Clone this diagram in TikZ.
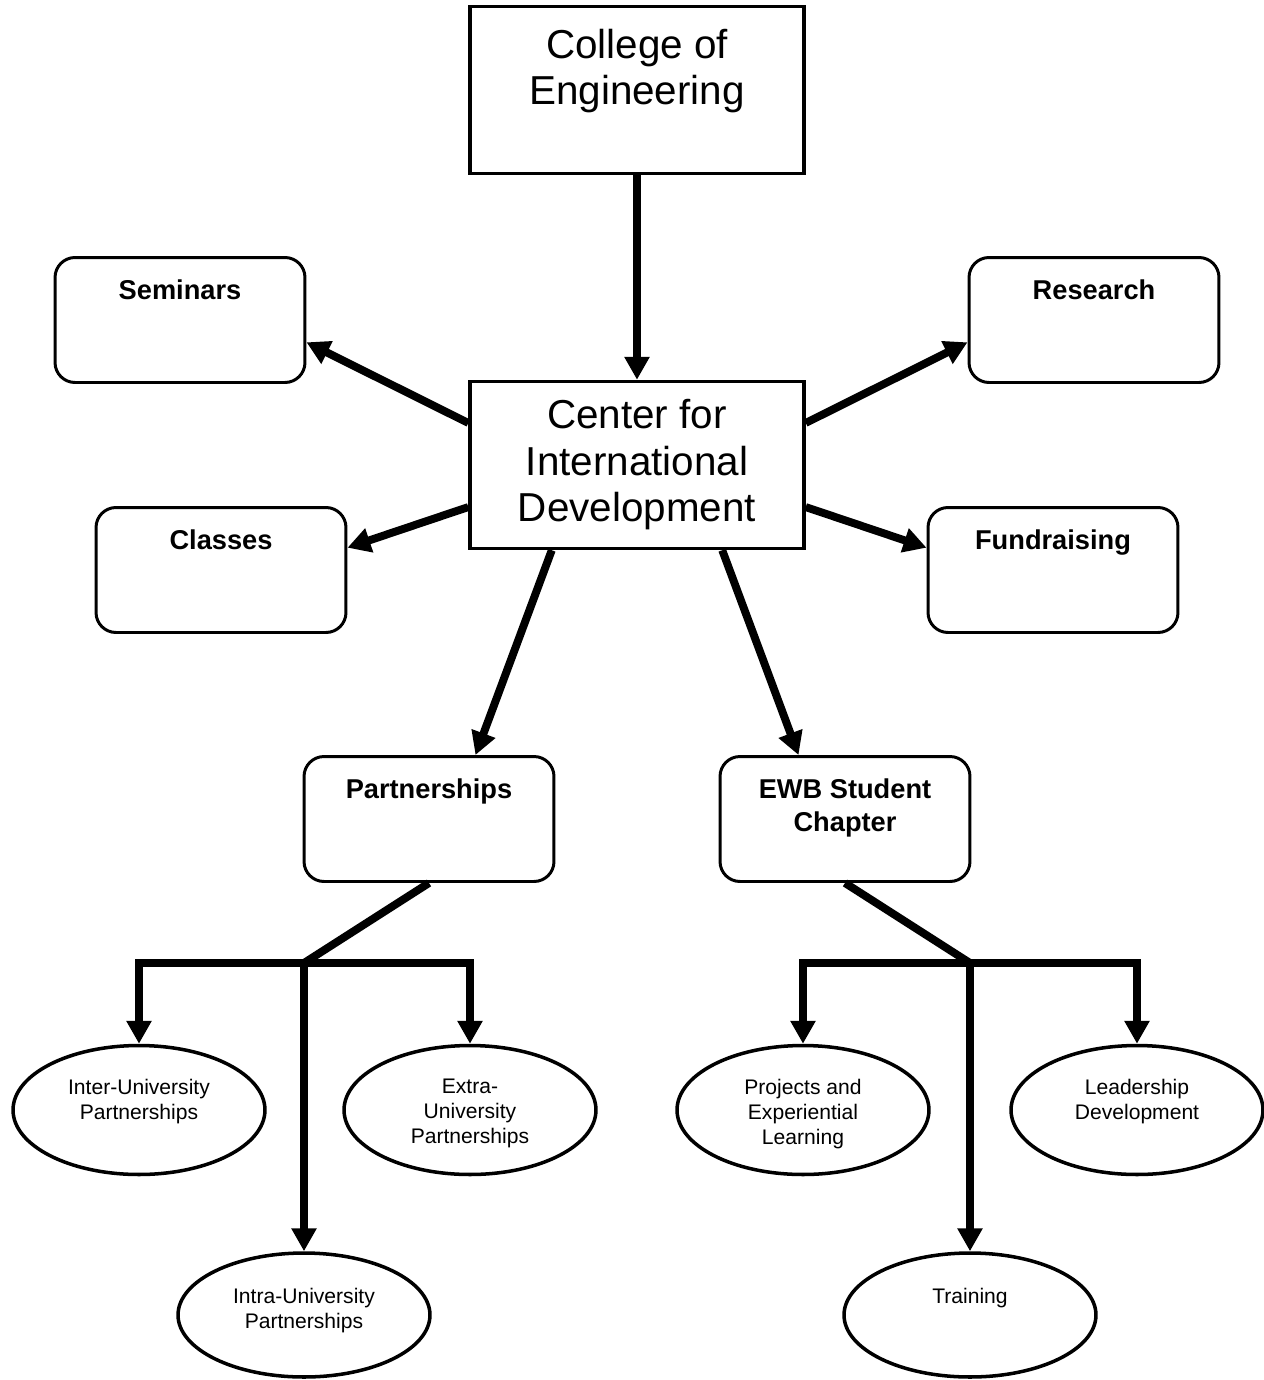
\documentclass[tikz,border=0pt]{standalone}
\usepackage{fontspec}
\setmainfont{Liberation Sans}
\usetikzlibrary{arrows.meta,shapes.geometric}

\begin{document}
\begin{tikzpicture}[x=0.02cm, y=-0.02cm,
    sqbox/.style={draw, line width=2pt, minimum width=6.68cm, minimum height=3.34cm, inner sep=0pt},
    rbox/.style={draw, line width=1.7pt, rounded corners=0.4cm, minimum width=5cm, minimum height=2.5cm, inner sep=0pt},
    oval/.style={draw, ellipse, line width=2pt, minimum width=5.04cm, minimum height=2.58cm, inner sep=0pt},
    bigtext/.style={font=\fontsize{23}{26.5}\selectfont, align=center},
    boxtext/.style={font=\fontsize{15.5}{19}\selectfont\bfseries, align=center, inner sep=0pt, anchor=north, yshift=-0.46cm},
    ovaltext/.style={font=\fontsize{12}{14.2}\selectfont, align=center, inner sep=0pt, anchor=north, yshift=-0.7cm},
    link/.style={line width=4.5pt, -{Triangle[length=0.46cm, width=0.48cm]}},
    branch/.style={line width=4.5pt}]
  \useasboundingbox (0,0) rectangle (1264,1380);

  % top and centre
  \node[sqbox, label={[bigtext, inner sep=0pt, anchor=north, yshift=-0.48cm]north:College of\\Engineering}] (college) at (637,90) {};
  \node[sqbox, bigtext] (cid) at (637,465) {Center for\\International\\Development};

  % activities
  \node[rbox, label={[boxtext]north:Seminars}] (seminars) at (180,320) {};
  \node[rbox, label={[boxtext]north:Research}] (research) at (1094,320) {};
  \node[rbox, label={[boxtext]north:Classes}] (classes) at (221,570) {};
  \node[rbox, label={[boxtext]north:Fundraising}] (fundraising) at (1053,570) {};
  \node[rbox, label={[boxtext]north:Partnerships}] (partnerships) at (429,819) {};
  \node[rbox, label={[boxtext]north:EWB Student\\Chapter}] (ewb) at (845,819) {};

  % partnership kinds
  \node[oval, label={[ovaltext]north:Inter-University\\Partnerships}] (inter) at (139,1110) {};
  \node[oval, label={[ovaltext]north:Extra-\\University\\Partnerships}] (extra) at (470,1110) {};
  \node[oval, minimum height=2.48cm, label={[ovaltext, yshift=-0.04cm]north:Intra-University\\Partnerships}] (intra) at (304,1315) {};

  % student chapter work
  \node[oval, label={[ovaltext]north:Projects and\\Experiential\\Learning}] (projects) at (803,1110) {};
  \node[oval, label={[ovaltext]north:Leadership\\Development}] (leadership) at (1137,1110) {};
  \node[oval, minimum height=2.48cm, label={[ovaltext, yshift=-0.04cm]north:Training}] (training) at (970,1315) {};

  \coordinate (pjoin) at (304,963);
  \coordinate (ejoin) at (970,963);

  \draw[link] (college) -- (cid);
  \draw[link] (cid.166) -- (seminars.-10);
  \draw[link] (cid.194) -- (classes.10);
  \draw[link] (cid.14) -- (research.190);
  \draw[link] (cid.-14) -- (fundraising.170);
  \draw[link] (cid.225) -- (partnerships.54);
  \draw[link] (cid.-45) -- (ewb.126);

  \draw[branch] (partnerships.south) -- (pjoin);
  \draw[link] (pjoin) -| (inter.north);
  \draw[link] (pjoin) -| (extra.north);
  \draw[link] (pjoin) -- (intra.north);

  \draw[branch] (ewb.south) -- (ejoin);
  \draw[link] (ejoin) -| (projects.north);
  \draw[link] (ejoin) -| (leadership.north);
  \draw[link] (ejoin) -- (training.north);
\end{tikzpicture}
\end{document}
